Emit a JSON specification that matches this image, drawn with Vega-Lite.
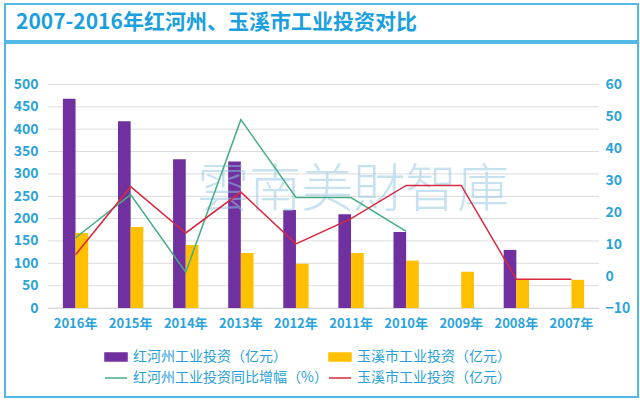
{
  "$schema": "https://vega.github.io/schema/vega-lite/v6.json",
  "padding": {"left": 4, "top": 3, "right": 3, "bottom": 3},
  "background": "white",
  "spacing": 0,
  "resolve": {"scale": {"x": "independent", "y": "independent"}},
  "config": {
    "view": {"stroke": "#52b9e6", "strokeWidth": 2},
    "font": "Noto Sans CJK SC",
    "axis": {"labelFont": "Noto Sans CJK SC"}
  },
  "datasets": {
    "title": [{"t": "2007-2016年红河州、玉溪市工业投资对比"}],
    "grid": [{"v": 0}, {"v": 50}, {"v": 100}, {"v": 150}, {"v": 200}, {"v": 250}, {"v": 300}, {"v": 350}, {"v": 400}, {"v": 450}, {"v": 500}],
    "bars": [
      {"year": "2016年", "series": "红河州工业投资（亿元）", "value": 468},
      {"year": "2015年", "series": "红河州工业投资（亿元）", "value": 418},
      {"year": "2014年", "series": "红河州工业投资（亿元）", "value": 333},
      {"year": "2013年", "series": "红河州工业投资（亿元）", "value": 328},
      {"year": "2012年", "series": "红河州工业投资（亿元）", "value": 219},
      {"year": "2011年", "series": "红河州工业投资（亿元）", "value": 210},
      {"year": "2010年", "series": "红河州工业投资（亿元）", "value": 170},
      {"year": "2008年", "series": "红河州工业投资（亿元）", "value": 130},
      {"year": "2016年", "series": "玉溪市工业投资（亿元）", "value": 168},
      {"year": "2015年", "series": "玉溪市工业投资（亿元）", "value": 181},
      {"year": "2014年", "series": "玉溪市工业投资（亿元）", "value": 141},
      {"year": "2013年", "series": "玉溪市工业投资（亿元）", "value": 123},
      {"year": "2012年", "series": "玉溪市工业投资（亿元）", "value": 99},
      {"year": "2011年", "series": "玉溪市工业投资（亿元）", "value": 123},
      {"year": "2010年", "series": "玉溪市工业投资（亿元）", "value": 106},
      {"year": "2009年", "series": "玉溪市工业投资（亿元）", "value": 81},
      {"year": "2008年", "series": "玉溪市工业投资（亿元）", "value": 65},
      {"year": "2007年", "series": "玉溪市工业投资（亿元）", "value": 63}
    ],
    "lines": [
      {"year": "2016年", "series": "红河州工业投资同比增幅（%）", "value": 12},
      {"year": "2015年", "series": "红河州工业投资同比增幅（%）", "value": 25.5},
      {"year": "2014年", "series": "红河州工业投资同比增幅（%）", "value": 1.2},
      {"year": "2013年", "series": "红河州工业投资同比增幅（%）", "value": 49},
      {"year": "2012年", "series": "红河州工业投资同比增幅（%）", "value": 24.6},
      {"year": "2011年", "series": "红河州工业投资同比增幅（%）", "value": 24.6},
      {"year": "2010年", "series": "红河州工业投资同比增幅（%）", "value": 14},
      {"year": "2016年", "series": "玉溪市工业投资增幅（%）", "value": 6.7},
      {"year": "2015年", "series": "玉溪市工业投资增幅（%）", "value": 28},
      {"year": "2014年", "series": "玉溪市工业投资增幅（%）", "value": 13.5},
      {"year": "2013年", "series": "玉溪市工业投资增幅（%）", "value": 26.3},
      {"year": "2012年", "series": "玉溪市工业投资增幅（%）", "value": 10.1},
      {"year": "2011年", "series": "玉溪市工业投资增幅（%）", "value": 18},
      {"year": "2010年", "series": "玉溪市工业投资增幅（%）", "value": 28.4},
      {"year": "2009年", "series": "玉溪市工业投资增幅（%）", "value": 28.4},
      {"year": "2008年", "series": "玉溪市工业投资增幅（%）", "value": -1},
      {"year": "2007年", "series": "玉溪市工业投资增幅（%）", "value": -1}
    ]
  },
  "vconcat": [
    {
      "width": 633,
      "height": 37,
      "data": {"name": "title"},
      "mark": {"type": "text", "align": "left", "baseline": "middle", "font": "Noto Sans CJK SC", "fontSize": 21, "fontWeight": "bold", "color": "#1c9fdf"},
      "encoding": {
        "text": {"field": "t"},
        "x": {"datum": 0, "type": "quantitative", "scale": {"domain": [0, 1], "range": [11, 633]}, "axis": null},
        "y": {"datum": 0.5, "type": "quantitative", "scale": {"domain": [0, 1], "range": [38, 0]}, "axis": null}
      }
    },
    {
      "width": 633,
      "height": 354,
      "resolve": {"scale": {"x": "independent", "y": "independent"}},
      "layer": [
        {
          "data": {"name": "grid"},
          "mark": {"type": "rule", "color": "#dcdcdc", "strokeWidth": 1},
          "encoding": {
            "x": {"datum": 0, "type": "quantitative", "scale": {"domain": [0, 1], "range": [43, 594]}, "axis": null},
            "x2": {"datum": 1},
            "y": {"field": "v", "type": "quantitative", "scale": {"domain": [0, 500], "range": [265, 41.5]}, "axis": null}
          }
        },
        {
          "data": {"name": "bars"},
          "mark": {"type": "bar"},
          "encoding": {
            "x": {
              "field": "year", "type": "nominal", "sort": null,
              "scale": {"domain": ["2016年", "2015年", "2014年", "2013年", "2012年", "2011年", "2010年", "2009年", "2008年", "2007年"], "range": [43, 594], "paddingInner": 0.54, "paddingOuter": 0.27},
              "axis": {"orient": "bottom", "offset": -89, "ticks": false, "domain": true, "domainColor": "#d9d9d9", "labelPadding": 9, "labelFontSize": 13, "labelFontWeight": "bold", "labelColor": "#29a3da", "labelAngle": 0, "title": null}
            },
            "xOffset": {"field": "series", "scale": {"domain": ["红河州工业投资（亿元）", "玉溪市工业投资（亿元）"], "paddingInner": 0}},
            "y": {
              "field": "value", "type": "quantitative",
              "scale": {"domain": [0, 500], "range": [265, 41.5]},
              "axis": {"orient": "left", "offset": -43, "ticks": false, "domain": false, "grid": false, "labelPadding": 10, "labelFontSize": 14, "labelFontWeight": "bold", "labelColor": "#29a3da", "values": [0, 50, 100, 150, 200, 250, 300, 350, 400, 450, 500], "title": null}
            },
            "color": {
              "field": "series", "type": "nominal",
              "scale": {
                "domain": ["红河州工业投资（亿元）", "玉溪市工业投资（亿元）", "红河州工业投资同比增幅（%）", "玉溪市工业投资增幅（%）"],
                "range": ["#7030a0", "#ffc000", "#45ad85", "#d9283f"]
              },
              "legend": {
                "orient": "none", "legendX": 99, "legendY": 341, "columns": 2, "direction": "horizontal", "title": null,
                "padding": 0, "rowPadding": 2, "columnPadding": -5, "labelOffset": 5,
                "labelFont": "Noto Sans CJK SC", "labelFontSize": 14, "labelColor": "#2a9fd8", "labelLimit": 400,
                "symbolSize": 484,
                "labelExpr": "datum.value == '玉溪市工业投资增幅（%）' ? '玉溪市工业投资（亿元）' : datum.value",
                "encode": {
                  "symbols": {
                    "update": {
                      "shape": {"signal": "indexof(datum.value, '%') >= 0 ? 'M-1,0H1' : 'M-1,-0.36H1V0.36H-1Z'"},
                      "fill": {"signal": "indexof(datum.value, '%') >= 0 ? 'transparent' : scale('color', datum.value)"},
                      "stroke": {"signal": "indexof(datum.value, '%') >= 0 ? scale('color', datum.value) : 'transparent'"},
                      "strokeWidth": {"value": 1.5},
                      "opacity": {"value": 1}
                    }
                  }
                }
              }
            }
          }
        },
        {
          "data": {"values": [{"t": "雲南美財智庫"}]},
          "mark": {"type": "text", "font": "Noto Sans CJK TC", "fontSize": 52, "fontWeight": 300, "color": "#8ec5e3", "opacity": 0.5},
          "encoding": {
            "text": {"field": "t"},
            "x": {"datum": 0.554, "type": "quantitative", "scale": {"domain": [0, 1], "range": [43, 594]}, "axis": null},
            "y": {"datum": 0.523, "type": "quantitative", "scale": {"domain": [0, 1], "range": [265, 41.5]}, "axis": null}
          }
        },
        {
          "data": {"name": "lines"},
          "mark": {"type": "line", "strokeWidth": 1.5},
          "encoding": {
            "x": {
              "field": "year", "type": "nominal", "sort": null,
              "scale": {"domain": ["2016年", "2015年", "2014年", "2013年", "2012年", "2011年", "2010年", "2009年", "2008年", "2007年"], "range": [43, 594], "paddingInner": 0.54, "paddingOuter": 0.27},
              "axis": null
            },
            "y": {
              "field": "value", "type": "quantitative",
              "scale": {"domain": [-10, 60], "range": [265, 41.5]},
              "axis": {"orient": "right", "offset": -39, "ticks": false, "domain": false, "grid": false, "labelPadding": 6, "labelFontSize": 14, "labelFontWeight": "bold", "labelColor": "#29a3da", "values": [-10, 0, 10, 20, 30, 40, 50, 60], "title": null}
            },
            "color": {"field": "series", "type": "nominal"}
          }
        }
      ]
    }
  ]
}
